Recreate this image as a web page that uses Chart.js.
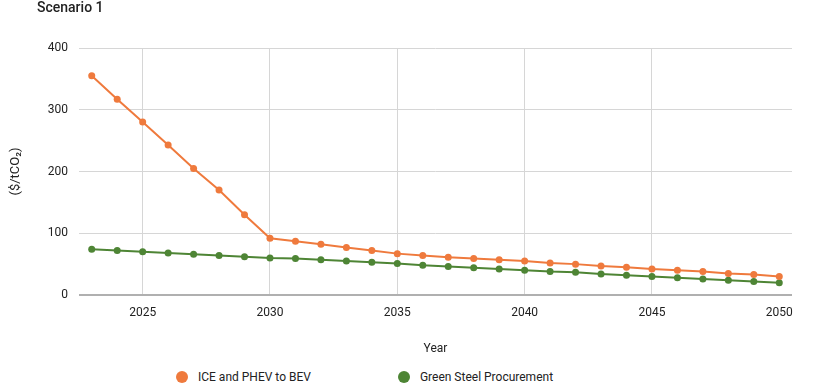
<!DOCTYPE html>
<html>
<head>
<meta charset="utf-8">
<script src="https://cdn.jsdelivr.net/npm/chart.js@4.4.1/dist/chart.umd.min.js"></script>
<style>
  body { margin: 0; background: #fff; font-family: Roboto, sans-serif; }
  #wrap { position: relative; width: 837px; height: 388px; }
  #legend { position: absolute; left: 176px; top: 370px; display: flex; font-size: 12px; color: #222; }
  #legend .item { display: flex; align-items: center; margin-right: 87px; }
  #legend .dot { width: 12px; height: 12px; border-radius: 50%; margin-right: 10px; }
</style>
</head>
<body>
<div id="wrap">
  <canvas id="line-chart" width="837" height="362"></canvas>
  <div id="legend"></div>
</div>
<script>
var years = [2023, 2024, 2025, 2026, 2027, 2028, 2029, 2030, 2031, 2032, 2033, 2034, 2035, 2036,
             2037, 2038, 2039, 2040, 2041, 2042, 2043, 2044, 2045, 2046, 2047, 2048, 2049, 2050];
var iceToBev = [355, 317, 280, 243, 205, 170, 130, 92, 87, 82, 77, 72, 67, 64,
                61, 59, 57, 55, 52, 50, 47, 45, 42, 40, 38, 35, 33, 30];
var greenSteel = [74, 72, 70, 68, 66, 64, 62, 60, 59, 57, 55, 53, 51, 48,
                  46, 44, 42, 40, 38, 37, 34, 32, 30, 28, 26, 24, 22, 20];
var xTicks = [2025, 2030, 2035, 2040, 2045, 2050];
var yTicks = [0, 100, 200, 300, 400];

var orange = '#ef7a3d';
var green = '#4e8535';

function toXY(vals) {
  return vals.map(function (v, i) { return { x: years[i], y: v }; });
}

// titre en haut a gauche
var titlePlugin = {
  id: 'scenarioTitle',
  afterDraw: function (chart) {
    var ctx = chart.ctx;
    ctx.save();
    ctx.font = '500 14px Roboto, sans-serif';
    ctx.fillStyle = '#222';
    ctx.textBaseline = 'middle';
    ctx.fillText('Scenario 1', 37, 8);
    ctx.restore();
  }
};

var mychart = document.getElementById('line-chart');
var myLineChart = new Chart(mychart, {
  type: 'line',
  data: {
    datasets: [
      {
        label: 'ICE and PHEV to BEV',
        data: toXY(iceToBev),
        borderColor: orange,
        backgroundColor: orange,
        borderWidth: 2,
        pointRadius: 3.5,
        pointBackgroundColor: orange,
        pointBorderWidth: 0,
        lineTension: 0,
        fill: false
      },
      {
        label: 'Green Steel Procurement',
        data: toXY(greenSteel),
        borderColor: green,
        backgroundColor: green,
        borderWidth: 2,
        pointRadius: 3.5,
        pointBackgroundColor: green,
        pointBorderWidth: 0,
        lineTension: 0,
        fill: false
      }
    ]
  },
  options: {
    responsive: false,
    animation: false,
    layout: { padding: { top: 48, right: 45, left: 0, bottom: 0 } },
    plugins: {
      legend: { display: false },
      tooltip: { enabled: false }
    },
    scales: {
      x: {
        type: 'linear',
        min: 2022.5,
        max: 2050.5,
        afterBuildTicks: function (s) { s.ticks = xTicks.map(function (v) { return { value: v }; }); },
        afterFit: function (s) { s.height = 67; },
        border: { display: false },
        grid: {
          drawTicks: false,
          color: function (c) { return c.tick && c.tick.value === 2050 ? 'rgba(0,0,0,0)' : '#d6d6d6'; }
        },
        ticks: {
          padding: 11,
          color: '#222',
          font: { family: 'Roboto', size: 12 },
          callback: function (v) { return String(v); }
        },
        title: {
          display: true,
          text: 'Year',
          color: '#222',
          font: { family: 'Roboto', size: 12 },
          padding: { top: 13, bottom: 6 }
        }
      },
      y: {
        min: 0,
        max: 400,
        afterBuildTicks: function (s) { s.ticks = yTicks.map(function (v) { return { value: v }; }); },
        afterFit: function (s) { s.width = 79; },
        border: { display: false },
        grid: {
          drawTicks: false,
          color: function (c) { return c.tick && c.tick.value === 0 ? '#b0b0b0' : '#d6d6d6'; },
          lineWidth: function (c) { return c.tick && c.tick.value === 0 ? 2 : 1; }
        },
        ticks: {
          padding: 11,
          color: '#222',
          font: { family: 'Roboto', size: 12 }
        },
        title: {
          display: true,
          text: '($/tCO₂)',
          color: '#222',
          font: { family: 'Roboto', size: 13 },
          padding: { top: 8, bottom: 0 }
        }
      }
    }
  },
  plugins: [titlePlugin]
});

// legende html
var legend = document.getElementById('legend');
myLineChart.data.datasets.forEach(function (ds) {
  var item = document.createElement('div');
  item.className = 'item';
  var dot = document.createElement('span');
  dot.className = 'dot';
  dot.style.background = ds.borderColor;
  var txt = document.createElement('span');
  txt.textContent = ds.label;
  item.appendChild(dot);
  item.appendChild(txt);
  legend.appendChild(item);
});
</script>
</body>
</html>
